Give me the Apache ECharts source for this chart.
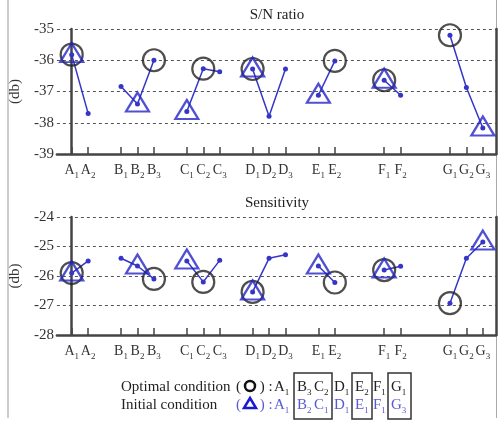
<!DOCTYPE html>
<html><head><meta charset="utf-8">
<script src="https://cdn.jsdelivr.net/npm/echarts@6/dist/echarts.min.js"></script>
<style>html,body{margin:0;padding:0;background:#fff}#c{width:504px;height:427px}</style>
</head><body><div id="c"></div>
<script>
// factor levels and tick slots along the x axis
const factors = ['A','B','C','D','E','F','G'];
const slots = [[0,1],[3,4,5],[7,8,9],[11,12,13],[15,16],[19,20],[23,24,25]];
// S/N ratio (db)
const snA = [-35.82, -37.70];
const snB = [-36.84, -37.40, -36.00];
const snC = [-37.64, -36.27, -36.37];
const snD = [-36.28, -37.79, -36.28];
const snE = [-37.12, -36.02];
const snF = [-36.64, -37.12];
const snG = [-35.20, -36.87, -38.17];
// Sensitivity (db)
const senA = [-25.90, -25.49];
const senB = [-25.40, -25.66, -26.10];
const senC = [-25.49, -26.20, -25.47];
const senD = [-26.54, -25.40, -25.28];
const senE = [-25.66, -26.22];
const senF = [-25.80, -25.67];
const senG = [-26.92, -25.40, -24.85];
// optimal (circle) and initial (triangle) level index per factor
const optimal = [0, 2, 1, 0, 1, 0, 0];
const initial = [0, 1, 0, 0, 0, 0, 2];
const snTicks = [-39, -38, -37, -36, -35];
const senTicks = [-28, -27, -26, -25, -24];

const sn = [snA, snB, snC, snD, snE, snF, snG];
const sen = [senA, senB, senC, senD, senE, senF, senG];

const SERIF = '"Liberation Serif","DejaVu Serif",serif';
const BLUE = '#3535c8';
const AXC = '#444';

const allSlots = slots.flat();
const labelMap = {};
slots.forEach((s, i) => s.forEach((v, j) => { labelMap[v] = factors[i] + '{s|' + (j + 1) + '}'; }));

function xAxis(gi) {
  return {
    type: 'value', gridIndex: gi, min: -0.9, max: 25.8,
    axisLine: { show: true, lineStyle: { color: AXC, width: 2.5 } },
    axisTick: { show: true, inside: true, length: 7, customValues: allSlots, lineStyle: { color: AXC, width: 1.5 } },
    axisLabel: {
      customValues: allSlots, margin: 7,
      formatter: v => '{b|' + labelMap[Math.round(v)].replace('{s|', '}{s|'),
      rich: {
        b: { fontFamily: SERIF, fontSize: 14, color: '#333', lineHeight: 16, verticalAlign: 'bottom' },
        s: { fontFamily: SERIF, fontSize: 9, color: '#333', lineHeight: 16, verticalAlign: 'bottom', padding: [0,0,-3,0] }
      }
    },
    splitLine: { show: false }
  };
}
function yAxis(gi, ticks) {
  return {
    type: 'value', gridIndex: gi, min: ticks[0], max: ticks[ticks.length - 1], interval: 1,
    name: '(db)', nameLocation: 'middle', nameGap: 33, nameRotate: 90,
    nameTextStyle: { fontFamily: SERIF, fontSize: 15, color: '#333' },
    axisLine: { show: true, lineStyle: { color: AXC, width: 2.5 } },
    axisTick: { show: false },
    axisLabel: { fontFamily: SERIF, fontSize: 15, color: '#333', margin: 3 },
    splitLine: { show: true, lineStyle: { color: '#555', type: [3, 3], width: 1 } }
  };
}
function yRight(gi, ticks) {
  return {
    type: 'value', gridIndex: gi, position: 'right', min: ticks[0], max: ticks[ticks.length - 1], interval: 1,
    axisLine: { show: true, lineStyle: { color: AXC, width: 2.5 } },
    axisTick: { show: false }, axisLabel: { show: false }, splitLine: { show: false }
  };
}

const series = [];
[sn, sen].forEach((vals, gi) => {
  vals.forEach((arr, fi) => {
    series.push({
      type: 'line', xAxisIndex: gi, yAxisIndex: gi * 2,
      data: arr.map((v, j) => [slots[fi][j], v]),
      symbol: 'circle', symbolSize: 5, showSymbol: true,
      lineStyle: { color: BLUE, width: 1.5 }, itemStyle: { color: BLUE },
      silent: true, animation: false, z: 3
    });
  });
  series.push({
    type: 'scatter', xAxisIndex: gi, yAxisIndex: gi * 2,
    data: optimal.map((l, fi) => [slots[fi][l], vals[fi][l]]),
    symbol: 'circle', symbolSize: 22,
    itemStyle: { color: 'rgba(0,0,0,0)', borderColor: '#222', borderWidth: 2.2 },
    animation: false, z: 4
  });
  series.push({
    type: 'scatter', xAxisIndex: gi, yAxisIndex: gi * 2,
    data: initial.map((l, fi) => [slots[fi][l], vals[fi][l]]),
    symbol: 'triangle', symbolSize: [23, 19], symbolOffset: [0, -2],
    itemStyle: { color: 'rgba(0,0,0,0)', borderColor: '#2424c8', borderWidth: 2.2 },
    animation: false, z: 5
  });
});

function tok(x, y, txt, color) {
  return { type: 'text', x: x, y: y, style: { text: txt, fontFamily: SERIF, fontSize: 15, fill: color, verticalAlign: 'middle', rich: { s: { fontFamily: SERIF, fontSize: 9, fill: color, verticalAlign: 'bottom', padding: [0,0,-3,0] } } } };
}
const optTokens = [[274,'A{s|1}'],[297,'B{s|3}'],[314,'C{s|2}'],[334,'D{s|1}'],[355,'E{s|2}'],[373,'F{s|1}'],[391,'G{s|1}']];
const iniTokens = [[274,'A{s|1}'],[297,'B{s|2}'],[314,'C{s|1}'],[334,'D{s|1}'],[355,'E{s|1}'],[373,'F{s|1}'],[391,'G{s|3}']];
const LB = '#5a5ad2';
const graphic = [
  { type: 'line', shape: { x1: 8, y1: 0, x2: 8, y2: 418 }, style: { stroke: '#999', lineWidth: 1 } },
  { type: 'line', shape: { x1: 496.5, y1: 0, x2: 496.5, y2: 418 }, style: { stroke: '#aaa', lineWidth: 1 } },
  { type: 'text', x: 121, y: 387, style: { text: 'Optimal condition', fontFamily: SERIF, fontSize: 15, fill: '#222', verticalAlign: 'middle' } },
  { type: 'text', x: 121, y: 405, style: { text: 'Initial condition', fontFamily: SERIF, fontSize: 15, fill: '#222', verticalAlign: 'middle' } },
  { type: 'text', x: 236, y: 387, style: { text: '(     ) :', fontFamily: SERIF, fontSize: 15, fill: '#222', verticalAlign: 'middle' } },
  { type: 'text', x: 236, y: 405, style: { text: '(     ) :', fontFamily: SERIF, fontSize: 15, fill: LB, verticalAlign: 'middle' } },
  { type: 'circle', shape: { cx: 250, cy: 386, r: 5 }, style: { fill: 'none', stroke: '#111', lineWidth: 2.5 } },
  { type: 'polygon', shape: { points: [[250, 398], [256, 408], [244, 408]] }, style: { fill: 'none', stroke: '#1a1ad0', lineWidth: 2.5 } },
  { type: 'rect', shape: { x: 294, y: 373, width: 38, height: 46 }, style: { fill: 'none', stroke: '#333', lineWidth: 1.5 } },
  { type: 'rect', shape: { x: 352, y: 373, width: 20, height: 46 }, style: { fill: 'none', stroke: '#333', lineWidth: 1.5 } },
  { type: 'rect', shape: { x: 388, y: 373, width: 23, height: 46 }, style: { fill: 'none', stroke: '#333', lineWidth: 1.5 } }
];
optTokens.forEach(t => graphic.push(tok(t[0], 387, t[1], '#222')));
iniTokens.forEach(t => graphic.push(tok(t[0], 405, t[1], LB)));

const chart = echarts.init(document.getElementById('c'), null, { renderer: 'canvas' });
chart.setOption({
  animation: false,
  backgroundColor: '#fff',
  title: [
    { text: 'S/N ratio', left: 272, top: 3, textAlign: 'center', textStyle: { fontFamily: SERIF, fontSize: 15, fontWeight: 'normal', color: '#222' } },
    { text: 'Sensitivity', left: 272, top: 191, textAlign: 'center', textStyle: { fontFamily: SERIF, fontSize: 15, fontWeight: 'normal', color: '#222' } }
  ],
  grid: [
    { left: 55, right: 8, top: 29, height: 125 },
    { left: 55, right: 8, top: 217, height: 118 }
  ],
  xAxis: [xAxis(0), xAxis(1)],
  yAxis: [yAxis(0, snTicks), yRight(0, snTicks), yAxis(1, senTicks), yRight(1, senTicks)],
  series: series,
  graphic: graphic
});
</script></body></html>
